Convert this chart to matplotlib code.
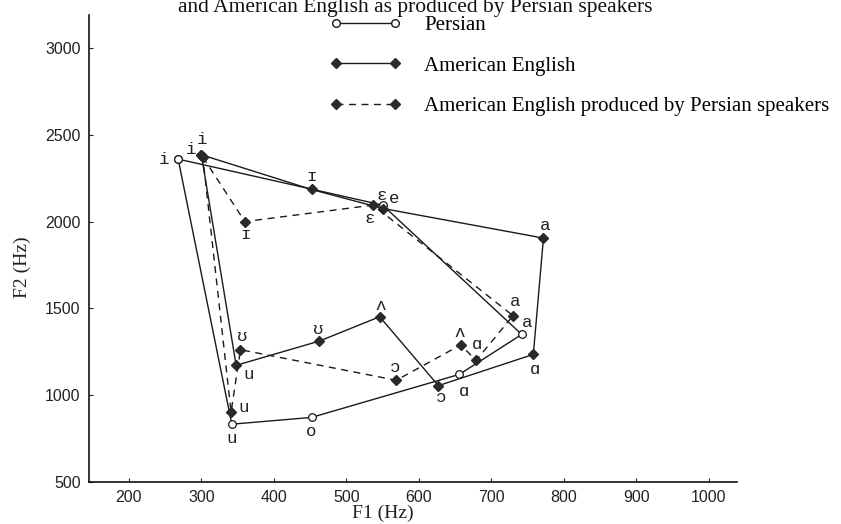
import matplotlib
matplotlib.use("Agg")
import matplotlib.pyplot as plt
from matplotlib.lines import Line2D

# ---- data (F1, F2 in Hz) ----
persian_vowels = ['i', 'e', 'a', 'ɑ', 'o', 'u']
persian_f1 = [268, 550, 742, 656, 452, 342]
persian_f2 = [2360, 2095, 1350, 1120, 872, 833]

amer_vowels = ['i', 'ɪ', 'ɛ', 'a', 'ɑ', 'ɔ', 'ʌ', 'ʊ', 'u']
amer_f1 = [300, 452, 551, 772, 758, 627, 546, 463, 348]
amer_f2 = [2385, 2185, 2075, 1905, 1235, 1055, 1452, 1312, 1172]

pers_eng_vowels = ['i', 'ɪ', 'ɛ', 'a', 'ɑ', 'ʌ', 'ɔ', 'ʊ', 'u']
pers_eng_f1 = [302, 360, 537, 730, 679, 658, 569, 354, 341]
pers_eng_f2 = [2372, 2000, 2095, 1458, 1200, 1290, 1086, 1262, 903]

x_ticks = [200, 300, 400, 500, 600, 700, 800, 900, 1000]
y_ticks = [500, 1000, 1500, 2000, 2500, 3000]

legend_labels = ['Persian', 'American English',
                 'American English produced by Persian speakers']

# label offsets in pixels (dx, dy)
persian_off = [(-14, 0), (12, 7), (5, 12), (5, -17), (0, -14), (0, -14)]
amer_off = [(1, 15), (0, 13), (-2, 13), (2, 13), (2, -15), (3, -12), (1, 11), (-1, 12), (12, -9)]
pers_eng_off = [(-12, 8), (1, -13), (-3, -13), (2, 14), (1, 16), (-1, 12), (-1, 13), (2, 13), (12, 5)]

W, H = 841, 524
fig = plt.figure(figsize=(W / 100, H / 100), dpi=100)
ax = fig.add_axes([89 / W, (H - 482) / H, (737 - 89) / W, (482 - 15) / H])

line_col = '#1a1a1a'
mk_col = '#2a2a2a'


def closed(v):
    return list(v) + [v[0]]


ax.plot(closed(persian_f1), closed(persian_f2), '-', color=line_col, lw=1.0,
        marker='o', ms=5.5, mfc='white', mec=line_col, mew=0.9, zorder=3)
ax.plot(closed(amer_f1), closed(amer_f2), '-', color=line_col, lw=1.0,
        marker='D', ms=5, mfc=mk_col, mec=mk_col, zorder=4)
ax.plot(closed(pers_eng_f1), closed(pers_eng_f2), color=line_col, lw=1.0,
        linestyle=(0, (5, 4)), marker='D', ms=5, mfc=mk_col, mec=mk_col, zorder=4)

lab_font = dict(family=['Liberation Mono', 'DejaVu Sans Mono'], fontsize=12.5,
                color='#222222')
for vs, xs, ys, offs in [(persian_vowels, persian_f1, persian_f2, persian_off),
                         (amer_vowels, amer_f1, amer_f2, amer_off),
                         (pers_eng_vowels, pers_eng_f1, pers_eng_f2, pers_eng_off)]:
    for v, x, y, (dx, dy) in zip(vs, xs, ys, offs):
        ax.annotate(v, (x, y), xytext=(dx, dy), textcoords='offset pixels',
                    ha='center', va='center', **lab_font)

ax.set_xlim(145, 1039)
ax.set_ylim(500, 3190)
ax.set_xticks(x_ticks)
ax.set_yticks(y_ticks)
ax.tick_params(direction='in', length=3, width=0.8, labelsize=11.5, colors='#222222',
               pad=6)
for lab in ax.get_xticklabels() + ax.get_yticklabels():
    lab.set_family('Liberation Sans')
for s in ['top', 'right']:
    ax.spines[s].set_visible(False)
for s in ['left', 'bottom']:
    ax.spines[s].set_linewidth(1.2)
    ax.spines[s].set_color('#111111')

serif = ['Liberation Serif', 'DejaVu Serif']
ax.set_xlabel('F1 (Hz)', family=serif, fontsize=14, color='#222222')
ax.set_ylabel('F2 (Hz)', family=serif, fontsize=14, color='#222222')
ax.xaxis.set_label_coords(0.454, -0.048)
ax.yaxis.set_label_coords(-0.09, 0.46)

handles = [
    Line2D([], [], color=line_col, lw=1.0, marker='o', ms=5.5, mfc='white', mec=line_col),
    Line2D([], [], color=line_col, lw=1.0, marker='D', ms=5, mfc=mk_col, mec=mk_col),
    Line2D([], [], color=line_col, lw=1.0, linestyle=(0, (5, 4)), marker='D', ms=5,
           mfc=mk_col, mec=mk_col),
]
fig.legend(handles, legend_labels, loc='upper left', bbox_to_anchor=(0.392, 0.970),
           frameon=False, numpoints=2, handlelength=3.45, handletextpad=1.1,
           labelspacing=1.0, borderpad=0, borderaxespad=0,
           prop=dict(family=serif, size=15))

fig.text(0.494, 1 - 12 / H, 'and American English as produced by Persian speakers',
         ha='center', va='baseline', family=serif, fontsize=15.5, color='#111111')

fig.savefig('out.png', dpi=100, facecolor='white')
